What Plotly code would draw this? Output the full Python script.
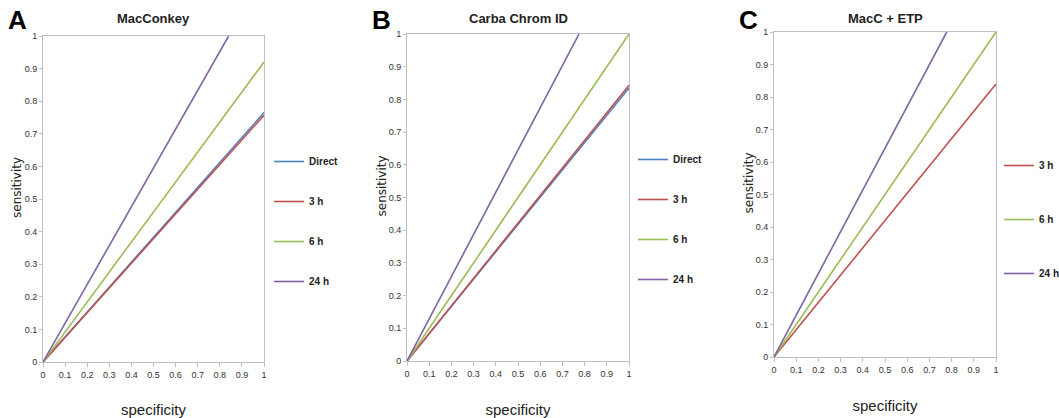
import plotly.graph_objects as go

# ---- data ----
series_names = ["Direct", "3 h", "6 h", "24 h"]
colors = {"Direct": "#4F81BD", "3 h": "#C0504D", "6 h": "#9BBB59", "24 h": "#8064A2"}

panel_titles = ["MacConkey", "Carba Chrom ID", "MacC + ETP"]
panel_letters = ["A", "B", "C"]

# each line runs from origin to its end point (specificity, sensitivity)
mac_x = {"Direct": [0, 1], "3 h": [0, 1], "6 h": [0, 1], "24 h": [0, 0.84]}
mac_y = {"Direct": [0, 0.765], "3 h": [0, 0.757], "6 h": [0, 0.92], "24 h": [0, 1.0]}

carba_x = {"Direct": [0, 1], "3 h": [0, 1], "6 h": [0, 1], "24 h": [0, 0.775]}
carba_y = {"Direct": [0, 0.835], "3 h": [0, 0.843], "6 h": [0, 1.0], "24 h": [0, 1.0]}

etp_x = {"3 h": [0, 1], "6 h": [0, 1], "24 h": [0, 0.778]}
etp_y = {"3 h": [0, 0.84], "6 h": [0, 1.0], "24 h": [0, 1.0]}

tick_vals = [0, 0.1, 0.2, 0.3, 0.4, 0.5, 0.6, 0.7, 0.8, 0.9, 1]
tick_text = ["0", "0.1", "0.2", "0.3", "0.4", "0.5", "0.6", "0.7", "0.8", "0.9", "1"]

W, H = 1059, 418
# pixel layout of each plot area (left, right, top, bottom)
boxes = [(43, 264, 36, 362), (407, 629, 34, 361), (774, 996, 32, 357)]
legend_pos = [(269, 147), (633, 145), (999, 151)]
legend_gap = [21, 21, 35]

FONT = "Liberation Sans Narrow, Arial Narrow, Liberation Sans, sans-serif"

fig = go.Figure()
panels = [(mac_x, mac_y), (carba_x, carba_y), (etp_x, etp_y)]

for i, (px_, py_) in enumerate(panels):
    xa = "x" if i == 0 else f"x{i+1}"
    ya = "y" if i == 0 else f"y{i+1}"
    lg = "legend" if i == 0 else f"legend{i+1}"
    for name in series_names:
        if name not in px_:
            continue
        fig.add_trace(go.Scatter(
            x=px_[name], y=py_[name], mode="lines", name=name,
            line=dict(color=colors[name], width=1.6),
            xaxis=xa, yaxis=ya, legend=lg, legendgroup=f"{i}-{name}",
            hoverinfo="skip",
        ))

layout = dict(
    width=W, height=H, margin=dict(l=0, r=0, t=0, b=0, autoexpand=False),
    paper_bgcolor="white", plot_bgcolor="white", showlegend=True,
)
annotations = []
for i, (l, r, t, b) in enumerate(boxes):
    sfx = "" if i == 0 else str(i + 1)
    xdom = [l / W, r / W]
    ydom = [1 - b / H, 1 - t / H]
    layout["xaxis" + sfx] = dict(
        domain=xdom, anchor="y" + sfx, range=[0, 1], tickvals=tick_vals, ticktext=tick_text,
        showgrid=False, zeroline=False, showline=True, linecolor="#BFBFBF", linewidth=1, mirror=True,
        ticks="outside", ticklen=4, tickcolor="#BFBFBF",
        tickfont=dict(family=FONT, size=9, color="#333333"),
        title=dict(text="specificity", font=dict(family=FONT, size=15, color="#222222"), standoff=26),
        automargin=False,
    )
    layout["yaxis" + sfx] = dict(
        domain=ydom, anchor="x" + sfx, range=[0, 1], tickvals=tick_vals, ticktext=tick_text,
        showgrid=False, zeroline=False, showline=True, linecolor="#BFBFBF", linewidth=1, mirror=True,
        ticks="outside", ticklen=3, tickcolor="#BFBFBF",
        tickfont=dict(family=FONT, size=9, color="#333333"),
        automargin=False,
    )
    lx, ly = legend_pos[i]
    layout["legend" if i == 0 else f"legend{i+1}"] = dict(
        x=lx / W, y=1 - ly / H, xanchor="left", yanchor="top",
        font=dict(family=FONT, size=10, color="#222222", weight="bold"),
        tracegroupgap=legend_gap[i], itemwidth=30, bgcolor="rgba(0,0,0,0)",
    )
    annotations.append(dict(
        text="sensitivity", textangle=-90, x=(l - 26) / W, y=1 - ((t + b) / 2 - 11) / H,
        xref="paper", yref="paper", showarrow=False, xanchor="center", yanchor="middle",
        font=dict(family="DejaVu Sans, Verdana, sans-serif", size=12, color="#222222"),
    ))
    annotations.append(dict(
        text="<b>" + panel_titles[i] + "</b>", x=(l + r) / 2 / W, y=1 - 19 / H,
        xref="paper", yref="paper", showarrow=False, xanchor="center", yanchor="middle",
        font=dict(family=FONT, size=13, color="#222222"),
    ))
    annotations.append(dict(
        text="<b>" + panel_letters[i] + "</b>", x=(l - 37) / W, y=1 - 20 / H,
        xref="paper", yref="paper", showarrow=False, xanchor="left", yanchor="middle",
        font=dict(family="Liberation Sans, Arial, sans-serif", size=26, color="#000000"),
    ))
layout["annotations"] = annotations
fig.update_layout(**layout)
fig.write_html("out.html", config={"displayModeBar": False},
               post_script="document.body.style.margin='0';")
